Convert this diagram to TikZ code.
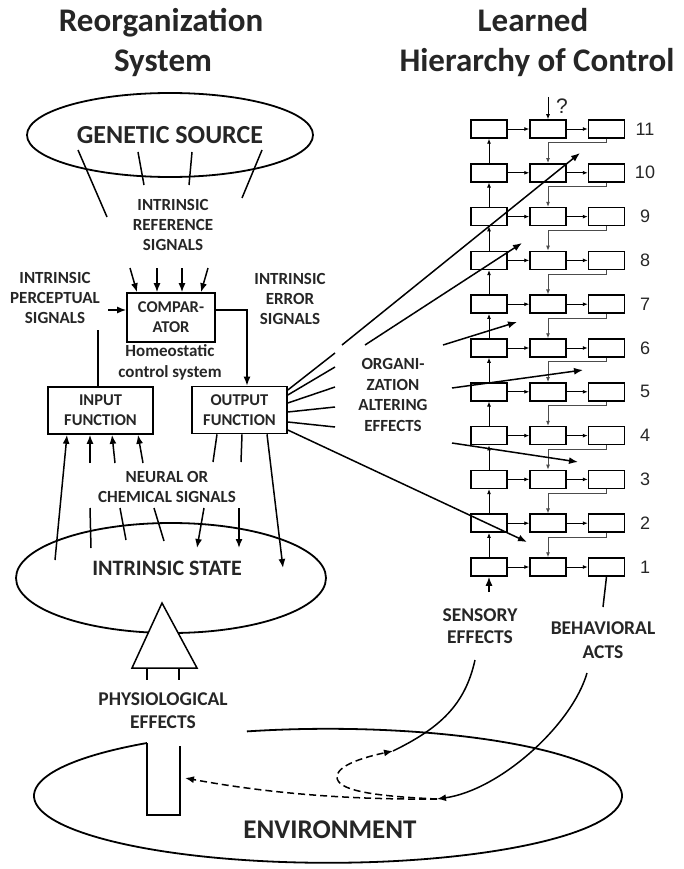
\documentclass[tikz,border=0pt]{standalone}
\usepackage{fontspec}
\setmainfont{Carlito}
\newfontfamily\numfont{Liberation Sans}
\usetikzlibrary{arrows.meta, shapes.geometric}

\tikzset{
	lbl/.style={font=\bfseries\fontsize{17}{20}\selectfont, align=center, text=black!85, inner sep=0pt},
	lowlbl/.style={font=\bfseries\fontsize{19.5}{23}\selectfont, align=center, text=black!85, inner sep=0pt},
	bigtxt/.style={font=\bfseries\fontsize{26}{30}\selectfont, text=black!85, inner sep=0pt},
	titletxt/.style={font=\bfseries\fontsize{33}{36}\selectfont, text=black!85, inner sep=0pt, anchor=base},
	fnbox/.style={draw, line width=1.6pt, align=center, inner sep=0pt, font=\bfseries\fontsize{16.5}{20}\selectfont, text=black!85},
	hbox/.style={draw, line width=1.5pt, minimum width=36pt, minimum height=18pt, inner sep=0pt},
	sig/.style={line width=1.5pt},
	sigarr/.style={line width=1.5pt, -{Latex[length=9pt, width=7pt]}},
	sigdash/.style={line width=1.5pt, dash pattern=on 7pt off 4pt, -{Latex[length=9pt, width=7pt]}},
	harr/.style={line width=0.9pt, -{Latex[length=5pt, width=4pt]}},
	numlbl/.style={font=\numfont\fontsize{18}{20}\selectfont, text=black!85, inner sep=0pt}
}

\begin{document}
\begin{tikzpicture}[x=1pt, y=-1pt]
	\useasboundingbox (0,0) rectangle (683,869);

	\node[titletxt] (reorg) at (161,32) {Reorganization};
	\node[titletxt] (system) at (163,72) {System};
	\node[titletxt] (learned) at (533,32) {Learned};
	\node[titletxt] (hier) at (537,72) {Hierarchy of Control};

	\node[ellipse, draw, line width=1.8pt, minimum width=286pt, minimum height=84pt, bigtxt] (gen) at (170,135) {GENETIC SOURCE};
	\draw[sig] (78,150) -- (107,217);
	\draw[sig] (138,152) -- (144,185);
	\draw[sig] (192,152) -- (189,185);
	\draw[sig] (262,150) -- (242,198);
	\node[lbl] (reflbl) at (173,225) {INTRINSIC\\REFERENCE\\SIGNALS};

	\node[fnbox, minimum width=88pt, minimum height=49pt] (comp) at (171,317.5) {COMPAR-\\ATOR};
	\node[fnbox, minimum width=105pt, minimum height=47pt] (input) at (100.5,410.5) {INPUT\\FUNCTION};
	\node[fnbox, minimum width=95pt, minimum height=47pt] (output) at (239.5,410) {OUTPUT\\FUNCTION};
	\node[lbl] (perclbl) at (55,298) {INTRINSIC\\PERCEPTUAL\\SIGNALS};
	\node[lbl] (errlbl) at (290,299) {INTRINSIC\\ERROR\\SIGNALS};
	\node[lbl, font=\bfseries\fontsize{17}{21}\selectfont] (homeolbl) at (170,362) {Homeostatic\\control system};
	\node[lbl] (neurlbl) at (167,487) {NEURAL OR\\CHEMICAL SIGNALS};

	\foreach \a/\b in {130/137, 157/157, 182/182, 208/201}
		\draw[sigarr] (\a,268) -- (\b,0 |- comp.north);
	\draw[sigarr] (108,310) -- (comp.west |- 0,310);
	\draw[sigarr] (comp.east |- 0,310) -| (247,0 |- output.north);
	\draw[sig] (98,330) -- (98,0 |- input.north);

	\draw[sigarr] (55,560) -- (67,0 |- input.south);
	\foreach \a/\b in {90/90, 115/112, 143/138}
		\draw[sigarr] (\a,463) -- (\b,0 |- input.south);
	\draw[sig] (217,0 |- output.south) -- (213,462);
	\draw[sig] (242,0 |- output.south) -- (241,462);
	\draw[sigarr] (267,0 |- output.south) -- (283,568);

	\node[ellipse, draw, line width=1.8pt, minimum width=310pt, minimum height=110pt] (state) at (171,578) {};
	\node[font=\bfseries\fontsize{22}{26}\selectfont, text=black!85, inner sep=0pt] (statetxt) at (167,568) {INTRINSIC STATE};
	\draw[sig] (90,508) -- (91,548);
	\draw[sig] (120,508) -- (126,540);
	\draw[sig] (154,508) -- (164,541);
	\draw[sigarr] (204,508) -- (197,548);
	\draw[sigarr] (239,508) -- (239,548);

	\draw[line width=1.5pt, fill=white] (162,603) -- (197,668) -- (132,668) -- cycle;
	\draw[sig] (147,668) -- (147,680) (179,668) -- (179,680);
	\node[lowlbl] (physlbl) at (163,711) {PHYSIOLOGICAL\\EFFECTS};

	\foreach \r in {1,...,11}{
		\pgfmathsetmacro{\yy}{567-(\r-1)*43.8}
		\node[hbox] (c1-\r) at (489,\yy) {};
		\node[hbox] (c2-\r) at (548,\yy) {};
		\node[hbox] (c3-\r) at (606.5,\yy) {};
		\node[numlbl] (n\r) at (645,\yy) {\r};
		\draw[harr] (c1-\r) -- (c2-\r);
		\draw[harr] (c2-\r) -- (c3-\r);
	}
	\foreach \r [evaluate=\r as \s using int(\r+1)] in {1,...,10}{
		\draw[harr] (c1-\r) -- (c1-\s);
		\draw[harr, black!70] (c3-\s.south) -- ++(0,4) -| (c2-\r.north);
	}
	\coordinate (qtop) at (548,97);
	\draw[harr] (qtop) -- (c2-11.north);
	\node[numlbl, font=\numfont\fontsize{21}{23}\selectfont] (qmark) at (562,106) {?};

	\foreach \a/\b in {390/353, 395/367, 403/387, 412/407, 422/427}
		\draw[sig] (output.north east |- 0,\a) -- (335,\b);
	\draw[sigarr] (output.north east |- 0,430) -- (527,542);
	\draw[sigarr] (342,345) -- (580,153);
	\draw[sigarr] (365,345) -- (522,243);
	\draw[sigarr] (443,345) -- (517,322);
	\draw[sigarr] (452,388) -- (583,370);
	\draw[sigarr] (452,443) -- (578,462);
	\node[lbl, font=\bfseries\fontsize{17}{20.5}\selectfont] (orglbl) at (393,395) {ORGANI-\\ZATION\\ALTERING\\EFFECTS};

	\coordinate (sens) at (489,592);
	\coordinate (beh) at (603,607);
	\draw[sigarr] (sens) -- (c1-1.south);
	\draw[sig] (c3-1.south) -- (beh);
	\node[lowlbl, font=\bfseries\fontsize{19.5}{22}\selectfont] (senslbl) at (480,626) {SENSORY\\EFFECTS};
	\node[lowlbl, font=\bfseries\fontsize{19.5}{24}\selectfont] (behlbl) at (603,640) {BEHAVIORAL\\ACTS};

	\draw[line width=1.8pt] (147,743) arc[start angle=232, end angle=-106, x radius=294, y radius=67];
	\draw[sig] (147,743) -- (147,815) -- (180,815) -- (180,746);
	\node[font=\bfseries\fontsize{27}{30}\selectfont, text=black!85, inner sep=0pt] (envlbl) at (330,830) {ENVIRONMENT};

	\coordinate (envhit) at (437,799);
	\coordinate (sensin) at (393,751);
	\coordinate (barin) at (185,778);
	\draw[sigarr] (587,673) .. controls (572,725) and (500,790) .. (envhit);
	\draw[sig] (sensin) .. controls (440,728) and (465,705) .. (475,660);
	\draw[sigdash] (envhit) .. controls (370,796) and (337,790) .. (337,777) .. controls (337,765) and (365,757) .. (sensin);
	\draw[sigdash] (envhit) .. controls (330,800) and (250,790) .. (barin);
\end{tikzpicture}
\end{document}
